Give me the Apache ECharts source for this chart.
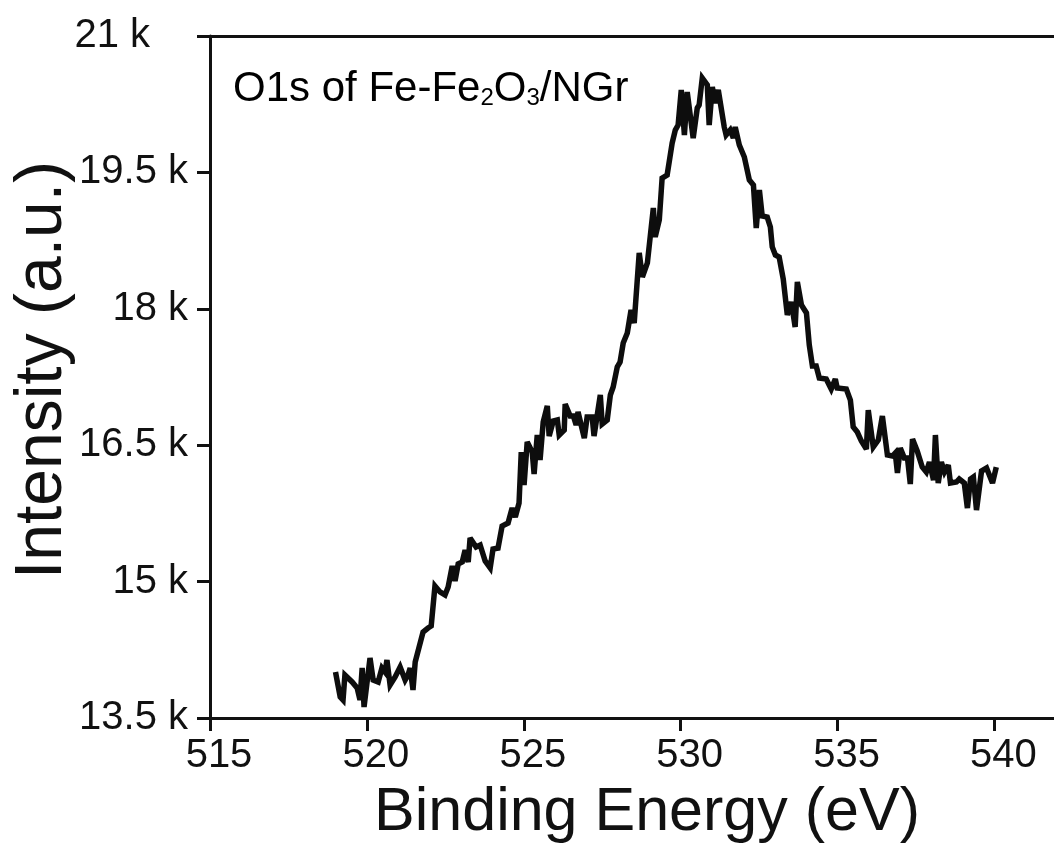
<!DOCTYPE html>
<html><head><meta charset="utf-8">
<script src="https://cdn.jsdelivr.net/npm/echarts@6/dist/echarts.min.js"></script>
<style>html,body{margin:0;padding:0;background:#fff}#c{width:1054px;height:850px}</style>
</head><body><div id="c"></div>
<script>
// Binding energy (eV) of traced vertices
const energy = [519.0,519.15,519.24,519.30,519.53,519.69,519.78,519.85,519.91,520.10,
520.20,520.36,520.48,520.58,520.64,520.74,520.90,521.06,521.22,521.31,
521.38,521.47,521.54,521.79,521.95,522.05,522.17,522.33,522.49,522.59,
522.72,522.81,522.91,523.04,523.13,523.23,523.29,523.48,523.61,523.77,
523.93,524.02,524.18,524.31,524.50,524.63,524.73,524.85,524.92,525.01,
525.11,525.27,525.33,525.43,525.52,525.62,525.75,525.81,525.94,526.07,
526.13,526.29,526.32,526.48,526.58,526.67,526.73,526.93,527.02,527.18,
527.24,527.44,527.50,527.66,527.76,527.85,527.98,528.07,528.17,528.30,
528.42,528.52,528.68,528.78,528.94,529.13,529.19,529.32,529.41,529.57,
529.73,529.83,529.92,530.02,530.12,530.21,530.40,530.53,530.59,530.69,
530.85,530.91,531.01,531.10,531.20,531.39,531.45,531.58,531.68,531.74,
531.87,532.03,532.19,532.32,532.41,532.51,532.60,532.76,532.86,532.92,
533.02,533.14,533.27,533.40,533.53,533.65,533.72,533.85,534.01,534.10,
534.20,534.32,534.42,534.64,534.80,534.93,534.99,535.28,535.41,535.50,
535.63,535.76,535.92,535.98,536.14,536.30,536.43,536.59,536.75,536.84,
536.91,537.00,537.13,537.23,537.32,537.39,537.54,537.70,537.83,537.93,
538.06,538.12,538.21,538.31,538.41,538.53,538.60,538.79,538.88,539.04,
539.14,539.24,539.33,539.43,539.59,539.75,539.94,540.06];
// Intensity (a.u.)
const intensity = [14006,13731,13698,13973,13896,13830,13698,14050,13621,14160,
13918,13896,14050,14006,14138,13863,13951,14061,13918,13973,
14050,13808,14116,14446,14490,14512,14952,14886,14853,14941,
15172,15007,15194,15216,15347,15216,15479,15381,15402,15227,
15150,15358,15369,15611,15644,15809,15710,15864,16425,16062,
16535,16425,16183,16612,16337,16755,16931,16601,16766,16777,
16612,16667,16953,16821,16821,16722,16865,16579,16810,16810,
16601,17052,16733,16777,17052,17140,17360,17415,17624,17734,
17987,17844,18614,18350,18504,19108,18790,18977,19438,19471,
19823,19966,20021,20406,19911,20384,19878,20208,20241,20538,
20461,20021,20439,20263,20406,19999,19911,19966,19878,19999,
19801,19669,19416,19361,18889,19306,19020,19009,18900,18680,
18592,18570,18328,17932,18075,17800,18295,18042,17954,17602,
17371,17371,17239,17228,17118,17228,17129,17118,16997,16700,
16645,16546,16458,16887,16480,16557,16821,16392,16381,16414,
16194,16469,16359,16359,16073,16568,16436,16260,16205,16315,
16117,16612,16084,16315,16205,16282,16084,16095,16128,16084,
15809,16128,16150,15787,16216,16249,16084,16260];
const xTickValues = [515,520,525,530,535,540];
const yTickValues = [13500,15000,16500,18000,19500,21000];
const xName = 'Binding Energy (eV)';
const yName = 'Intensity (a.u.)';

const FONT = 'Liberation Sans, Arial, sans-serif';
const chart = echarts.init(document.getElementById('c'), null, {renderer:'canvas'});
const pts = energy.map((e,i)=>[e,intensity[i]]);
chart.setOption({
  animation:false,
  backgroundColor:'#ffffff',
  grid:{left:210,right:0,top:36,bottom:132,containLabel:false,outerBoundsMode:'none'},
  xAxis:[{
    type:'value',min:515,max:541.9,interval:5,
    name:xName,nameLocation:'middle',nameGap:65,nameMoveOverlap:false,
    nameTextStyle:{fontFamily:FONT,fontSize:61,color:'#111',padding:[0,0,0,30]},
    axisLine:{show:true,onZero:false,lineStyle:{color:'#111',width:3}},
    axisTick:{show:true,inside:false,length:13,lineStyle:{color:'#111',width:3},
      customValues:xTickValues},
    axisLabel:{show:true,margin:18,fontFamily:FONT,fontSize:40,color:'#111',
      padding:[0,0,0,18],customValues:xTickValues,
      formatter:v=>String(v)},
    splitLine:{show:false}
  },{
    type:'value',position:'top',min:515,max:541.9,
    axisLine:{show:true,onZero:false,lineStyle:{color:'#111',width:3}},
    axisTick:{show:false},axisLabel:{show:false},splitLine:{show:false}
  }],
  yAxis:{
    type:'value',min:13500,max:21000,interval:1500,
    name:yName,nameLocation:'middle',nameGap:134,nameRotate:90,nameMoveOverlap:false,
    nameTextStyle:{fontFamily:FONT,fontSize:66,color:'#111',padding:[0,0,0,14]},
    axisLine:{show:true,onZero:false,lineStyle:{color:'#111',width:3}},
    axisTick:{show:true,inside:false,length:13,lineStyle:{color:'#111',width:3},
      customValues:yTickValues},
    axisLabel:{show:true,margin:22,fontFamily:FONT,fontSize:40,color:'#111',
      customValues:yTickValues,
      formatter:v=>{
        const s=(v/1000)+' k';
        return v===21000?'{t|'+s+'}':s;
      },
      rich:{t:{fontFamily:FONT,fontSize:40,color:'#111',padding:[0,38,0,0]}}
    },
    splitLine:{show:false}
  },
  graphic:[{
    type:'text',left:233,top:68,
    style:{
      text:'{m|O1s of Fe-Fe}{s|2}{m|O}{s|3}{m|/NGr}',
      rich:{
        m:{fontFamily:FONT,fontSize:42,color:'#111',lineHeight:46,verticalAlign:'bottom'},
        s:{fontFamily:FONT,fontSize:24,color:'#111',lineHeight:16,verticalAlign:'bottom'}
      }
    }
  }],
  series:[{
    type:'line',data:pts,showSymbol:false,symbol:'none',smooth:false,
    lineStyle:{color:'#0d0d0d',width:5.5,join:'miter',miterLimit:3},
    clip:false
  }]
});
</script></body></html>
